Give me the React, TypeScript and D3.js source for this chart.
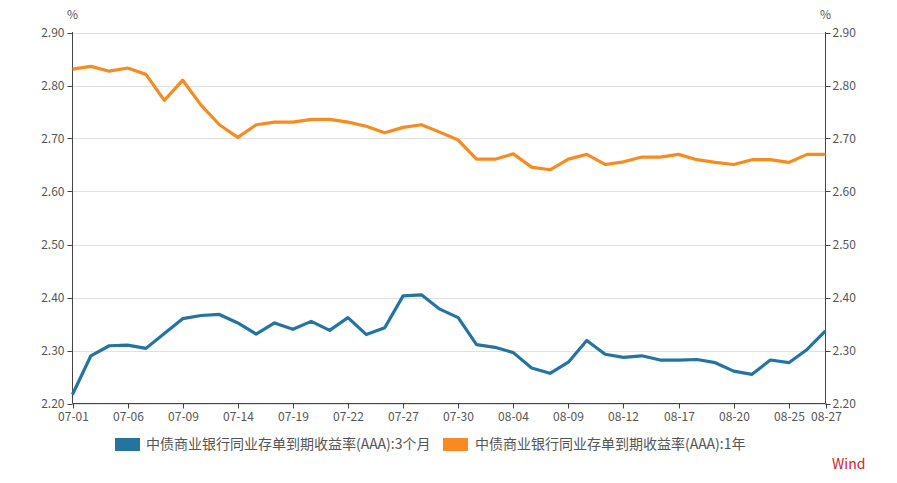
import React from "react";
import * as d3 from "d3";

const dates = [
  "07-01", "07-02", "07-03", "07-06", "07-07", "07-08", "07-09", "07-10", "07-11", "07-14",
  "07-15", "07-16", "07-19", "07-20", "07-21", "07-22", "07-23", "07-24", "07-27", "07-28",
  "07-29", "07-30", "07-31", "08-01", "08-04", "08-05", "08-06", "08-09", "08-10", "08-11",
  "08-12", "08-13", "08-14", "08-17", "08-18", "08-19", "08-20", "08-21", "08-22", "08-25",
  "08-26", "08-27",
];

const tickLabels = [
  "07-01", "07-06", "07-09", "07-14", "07-19", "07-22", "07-27", "07-30",
  "08-04", "08-09", "08-12", "08-17", "08-20", "08-25", "08-27",
];

const yTicks = [2.2, 2.3, 2.4, 2.5, 2.6, 2.7, 2.8, 2.9];

const series3M = [
  2.217, 2.29, 2.309, 2.31, 2.304, 2.332, 2.36, 2.366, 2.368, 2.352,
  2.331, 2.352, 2.34, 2.355, 2.338, 2.362, 2.33, 2.343, 2.403, 2.405,
  2.378, 2.362, 2.311, 2.306, 2.296, 2.267, 2.257, 2.278, 2.319, 2.293,
  2.287, 2.29, 2.282, 2.282, 2.283, 2.277, 2.261, 2.255, 2.282, 2.277,
  2.302, 2.337,
];

const series1Y = [
  2.831, 2.836, 2.827, 2.833, 2.821, 2.772, 2.81, 2.763, 2.726, 2.702,
  2.726, 2.731, 2.731, 2.736, 2.736, 2.731, 2.723, 2.711, 2.721, 2.726,
  2.712, 2.697, 2.661, 2.661, 2.671, 2.646, 2.641, 2.661, 2.67, 2.651,
  2.656, 2.665, 2.665, 2.67, 2.66, 2.655, 2.651, 2.66, 2.66, 2.655,
  2.67, 2.67,
];

const seriesNames = [
  "中债商业银行同业存单到期收益率(AAA):3个月",
  "中债商业银行同业存单到期收益率(AAA):1年",
];
const colors = ["#2374a1", "#f88b1f"];

const W = 897;
const H = 483;
const FONT = "'Noto Sans CJK SC', 'Noto Sans', sans-serif";

export default function App() {
  const x = d3.scalePoint<string>().domain(dates).range([72.5, 825.5]);
  const y = d3.scaleLinear().domain([2.2, 2.9]).range([403.5, 32.5]);
  const line = d3
    .line<number>()
    .x((_, i) => x(dates[i]) as number)
    .y((d) => y(d));
  const left = 72.5;
  const right = 825.5;
  const bottom = 403.5;
  const axisColor = "#444";
  const textColor = "#555";

  return (
    <svg
      width={W}
      height={H}
      style={{ position: "absolute", left: 0, top: 0, background: "#fff" }}
      fontFamily={FONT}
    >
      {/* grid */}
      {yTicks.map((t) => (
        <line key={"g" + t} x1={left} x2={right} y1={Math.round(y(t)) + 0.5} y2={Math.round(y(t)) + 0.5} stroke="#e0e0e0" strokeWidth={1} />
      ))}
      {/* left axis */}
      <line x1={left} x2={left} y1={32} y2={bottom} stroke={axisColor} strokeWidth={1} />
      {yTicks.map((t) => (
        <g key={"l" + t}>
          <line x1={left - 5} x2={left} y1={Math.round(y(t)) + 0.5} y2={Math.round(y(t)) + 0.5} stroke={axisColor} />
          <text x={left - 8} y={y(t)} dy="0.35em" textAnchor="end" fontSize={12} fill={textColor}>
            {t.toFixed(2)}
          </text>
        </g>
      ))}
      <text x={left} y={19} textAnchor="middle" fontSize={12} fill={textColor}>%</text>
      {/* right axis */}
      <line x1={right} x2={right} y1={32} y2={bottom} stroke={axisColor} strokeWidth={1} />
      {yTicks.map((t) => (
        <g key={"r" + t}>
          <line x1={right} x2={right + 5} y1={Math.round(y(t)) + 0.5} y2={Math.round(y(t)) + 0.5} stroke={axisColor} />
          <text x={right + 7} y={y(t)} dy="0.35em" textAnchor="start" fontSize={12} fill={textColor}>
            {t.toFixed(2)}
          </text>
        </g>
      ))}
      <text x={right} y={19} textAnchor="middle" fontSize={12} fill={textColor}>%</text>
      {/* x axis */}
      <line x1={left} x2={right} y1={bottom} y2={bottom} stroke={axisColor} strokeWidth={1} />
      {tickLabels.map((lab) => {
        const px = Math.round(x(lab) as number) + 0.5;
        return (
          <g key={"x" + lab}>
            <line x1={px} x2={px} y1={bottom} y2={bottom + 5} stroke={axisColor} />
            <text x={px} y={bottom + 17} textAnchor="middle" fontSize={12} fill={textColor}>
              {lab}
            </text>
          </g>
        );
      })}
      {/* lines */}
      <path d={line(series1Y) || ""} fill="none" stroke={colors[1]} strokeWidth={3.2} strokeLinejoin="round" />
      <path d={line(series3M) || ""} fill="none" stroke={colors[0]} strokeWidth={3.2} strokeLinejoin="round" />
      {/* legend */}
      <rect x={115} y={438} width={25} height={13} fill={colors[0]} />
      <text x={146} y={444.5} dy="0.35em" fontSize={14} fill={textColor}>{seriesNames[0]}</text>
      <rect x={443} y={438} width={25} height={13} fill={colors[1]} />
      <text x={475} y={444.5} dy="0.35em" fontSize={14} fill={textColor}>{seriesNames[1]}</text>
      <text x={832} y={464} dy="0.35em" fontSize={14} fill="#e0201e">Wind</text>
    </svg>
  );
}
